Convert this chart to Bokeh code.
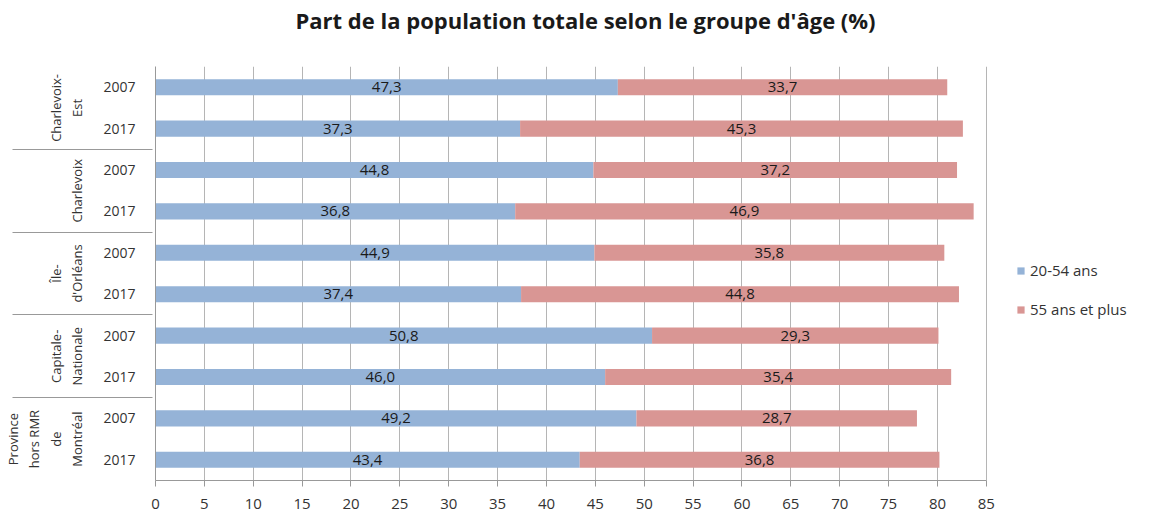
from bokeh.plotting import figure
from bokeh.models import FactorRange, ColumnDataSource, Legend, LegendItem, LabelSet
from bokeh.core.properties import value
from bokeh.embed import file_html
from bokeh.resources import INLINE

regions = ["Charlevoix-\nEst", "Charlevoix", "Île-\nd'Orléans", "Capitale-\nNationale", "Province\nhors RMR\nde\nMontréal"]
years = ["2007", "2017"]
young = [47.3, 37.3, 44.8, 36.8, 44.9, 37.4, 50.8, 46.0, 49.2, 43.4]   # 20-54 ans
old = [33.7, 45.3, 37.2, 46.9, 35.8, 44.8, 29.3, 35.4, 28.7, 36.8]     # 55 ans et plus
x_ticks = list(range(0, 90, 5))
x_max = 85

factors = [(r, y) for r in regions for y in years]
young_mid = [v / 2 for v in young]
old_left = young
old_right = [a + b for a, b in zip(young, old)]
old_mid = [a + b / 2 for a, b in zip(young, old)]
fmt = lambda v: f"{v:.1f}".replace(".", ",")

src = ColumnDataSource(dict(
    cat=factors, young=young, old_left=old_left, old_right=old_right,
    young_mid=young_mid, old_mid=old_mid,
    young_lbl=[fmt(v) for v in young], old_lbl=[fmt(v) for v in old],
))

FONT = "Open Sans"
yr = FactorRange(factors=list(reversed(factors)), group_padding=0, factor_padding=0, range_padding=0)

# frame extends to the right edge so the legend can sit inside it;
# the axis and grid are bounded to 0..85
p = figure(y_range=yr, x_range=(0, 102.1), output_backend="svg", toolbar_location=None,
           frame_width=998, frame_height=414, min_border_left=145, min_border_top=10,
           min_border_bottom=10, min_border_right=0)

# trailing blank line leaves room between the title and the plot
p.title.text = "Part de la population totale selon le groupe d'âge (%)\n "
p.title.align = "left"
p.title.vertical_align = "bottom"
p.title.text_font = FONT
p.title.text_font_size = "22px"
p.title.text_font_style = "bold"
p.title.text_color = "#1a1a1a"
p.title.offset = 140
p.title.standoff = 4

b1 = p.hbar(y="cat", left=0, right="young", height=0.39, source=src, color="#95B3D7", line_color=None)
b2 = p.hbar(y="cat", left="old_left", right="old_right", height=0.39, source=src, color="#D99694", line_color=None)

for xcol, tcol in (("young_mid", "young_lbl"), ("old_mid", "old_lbl")):
    p.add_layout(LabelSet(x=xcol, y="cat", text=tcol, source=src, text_align="center",
                          text_baseline="middle", text_font=value(FONT), text_font_size="15px",
                          text_color="#1a1a1a"))

p.xaxis.ticker = x_ticks
p.xaxis.bounds = (0, x_max)
p.xaxis.major_label_text_font = FONT
p.xaxis.major_label_text_font_size = "15px"
p.xaxis.major_label_text_color = "#333333"
p.xaxis.major_label_standoff = 12
p.xaxis.axis_line_color = "#999999"
p.xaxis.major_tick_line_color = "#999999"
p.xaxis.major_tick_out = 6
p.xaxis.major_tick_in = 0
p.xaxis.minor_tick_line_color = None

p.yaxis.axis_line_color = "#999999"
p.yaxis.major_tick_line_color = None
p.yaxis.minor_tick_line_color = None
p.yaxis.major_label_orientation = "horizontal"
p.yaxis.major_label_standoff = 14
p.yaxis.major_label_text_font = FONT
p.yaxis.major_label_text_font_size = "14px"
p.yaxis.major_label_text_color = "#333333"
p.yaxis.group_text_font = FONT
p.yaxis.group_text_font_size = "13px"
p.yaxis.group_text_font_style = "normal"
p.yaxis.group_text_color = "#333333"
p.yaxis.separator_line_color = "#999999"
p.yaxis.separator_line_width = 1

p.xgrid.grid_line_color = "#b5b5b5"
p.xgrid.bounds = (0, x_max)
p.ygrid.grid_line_color = None
p.outline_line_color = None

legend = Legend(items=[LegendItem(label="20-54 ans", renderers=[b1]),
                       LegendItem(label="55 ans et plus", renderers=[b2])],
                location=(861, 161), label_text_font=FONT, label_text_font_size="15px",
                label_text_color="#333333", glyph_width=9, glyph_height=9, spacing=19,
                label_standoff=5, padding=0, margin=0, border_line_color=None,
                background_fill_alpha=0)
p.add_layout(legend, "center")

open("out.html", "w").write(file_html(p, INLINE))
